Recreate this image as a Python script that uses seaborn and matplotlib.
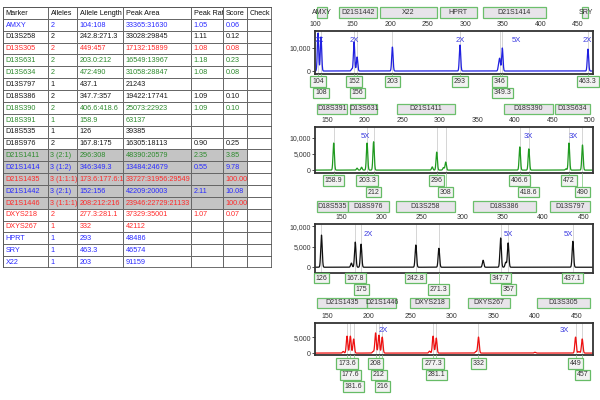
import numpy as np
import pandas as pd
import seaborn as sns
import matplotlib.pyplot as plt
from matplotlib.patches import Rectangle
from matplotlib.transforms import blended_transform_factory
from matplotlib.ticker import FuncFormatter

sns.set_style("white")
plt.rcParams['font.family'] = ['Liberation Sans', 'DejaVu Sans']

# ---------------- table data ----------------
columns = ['Marker', 'Alleles', 'Allele Length', 'Peak Area', 'Peak Ratio', 'Score', 'Check']
markers = ['AMXY', 'D13S258', 'D13S305', 'D13S631', 'D13S634', 'D13S797', 'D18S386', 'D18S390',
           'D18S391', 'D18S535', 'D18S976', 'D21S1411', 'D21S1414', 'D21S1435', 'D21S1442',
           'D21S1446', 'DXYS218', 'DXYS267', 'HPRT', 'SRY', 'X22']
allele_counts = ['2', '2', '2', '2', '2', '1', '2', '2', '1', '1', '2', '3 (2:1)', '3 (1:2)',
                 '3 (1:1:1)', '3 (2:1)', '3 (1:1:1)', '2', '1', '1', '1', '1']
allele_lengths = ['104:108', '242.8:271.3', '449:457', '203.0:212', '472:490', '437.1',
                  '347.7:357', '406.6:418.6', '158.9', '126', '167.8:175', '296:308',
                  '346:349.3', '173.6:177.6:181.6', '152:156', '208:212:216', '277.3:281.1',
                  '332', '293', '463.3', '203']
peak_areas = ['33365:31630', '33028:29845', '17132:15899', '16549:13967', '31058:28847',
              '21243', '19422:17741', '25073:22923', '63137', '39385', '16305:18113',
              '48390:20579', '13484:24679', '33727:31956:29549', '42209:20003',
              '23946:22729:21133', '37329:35001', '42112', '48486', '46574', '91159']
peak_ratios = ['1.05', '1.11', '1.08', '1.18', '1.08', '', '1.09', '1.09', '', '', '0.90',
               '2.35', '0.55', '', '2.11', '', '1.07', '', '', '', '']
scores = ['0.06', '0.12', '0.08', '0.23', '0.08', '', '0.10', '0.10', '', '', '0.25',
          '3.85', '9.78', '100.00', '10.08', '100.00', '0.07', '', '', '', '']
dyes = ['blue', 'black', 'red', 'green', 'green', 'black', 'black', 'green', 'green', 'black',
        'black', 'green', 'blue', 'red', 'blue', 'red', 'red', 'red', 'blue', 'blue', 'blue']
flagged = ['D21S1411', 'D21S1414', 'D21S1435', 'D21S1442', 'D21S1446']

# ---------------- electropherogram data ----------------
# blue dye
blue_sizes = [104, 108, 152, 156, 203, 293, 346, 349.3, 463.3]
blue_heights = [16500, 14800, 12600, 6100, 10400, 11300, 4800, 10000, 9500]
blue_rows = [0, 1, 0, 1, 0, 0, 0, 1, 0]
blue_minor_sizes = [149, 344.5]
blue_minor_heights = [900, 2500]
blue_markers = ['AMXY', 'D21S1442', 'X22', 'HPRT', 'D21S1414', 'SRY']
blue_bin_lo = [103, 132, 186, 266, 323, 456]
blue_bin_hi = [116, 182, 262, 315, 407, 464]
blue_fold_x = [106, 152, 293, 368, 463]
blue_fold = ['2X', '2X', '2X', '5X', '2X']

# green dye
green_sizes = [158.9, 203.3, 212, 296, 308, 406.6, 418.6, 472, 490]
green_heights = [8400, 8400, 8800, 5600, 2500, 7200, 6600, 8400, 7800]
green_rows = [0, 0, 1, 0, 1, 0, 1, 0, 1]
green_minor_sizes = [190, 196, 290, 305, 468]
green_minor_heights = [600, 900, 1000, 800, 400]
green_markers = ['D18S391', 'D13S631', 'D21S1411', 'D18S390', 'D13S634']
green_bin_lo = [137, 181, 243, 385, 453]
green_bin_hi = [177, 217, 320, 451, 500]
green_fold_x = [201, 418, 478]
green_fold = ['5X', '3X', '3X']

# yellow dye (shown black)
black_sizes = [126, 167.8, 175, 242.8, 271.3, 347.7, 357, 437.1]
black_heights = [7800, 6100, 5600, 5400, 4600, 7100, 5900, 6300]
black_rows = [0, 0, 1, 0, 1, 0, 1, 0]
black_minor_sizes = [163, 326, 354]
black_minor_heights = [1000, 1700, 1200]
black_markers = ['D18S535', 'D18S976', 'D13S258', 'D18S386', 'D13S797']
black_bin_lo = [120, 159, 218, 313, 409]
black_bin_hi = [159, 209, 291, 392, 458]
black_fold_x = [184, 357, 432]
black_fold = ['2X', '5X', '5X']

# red dye
red_sizes = [173.6, 177.6, 181.6, 208, 212, 216, 277.3, 281.1, 332, 449, 457]
red_heights = [5300, 5300, 4400, 6300, 5600, 5000, 5300, 4700, 5000, 5000, 4400]
red_rows = [0, 1, 2, 0, 1, 2, 0, 1, 0, 0, 1]
red_minor_sizes = [169, 205, 273, 329, 400, 453]
red_minor_heights = [500, 500, 600, 500, 250, 500]
red_markers = ['D21S1435', 'D21S1446', 'DXYS218', 'DXYS267', 'D13S305']
red_bin_lo = [137, 198, 249, 319, 402]
red_bin_hi = [198, 233, 297, 370, 466]
red_fold_x = [217, 435]
red_fold = ['2X', '3X']

colors = {'blue': '#2a2aff', 'black': '#1a1a1a', 'red': '#ff2a2a', 'green': '#2e8b2e'}
trace_colors = {'blue': '#2020e0', 'green': '#1f9a1f', 'black': '#111111', 'red': '#ee1010'}

fig = plt.figure(figsize=(6, 4), dpi=100)

# ---------------- table ----------------
ax_t = fig.add_axes([3 / 600, 1 - 268 / 400, 269 / 600, 261 / 400])
ax_t.set_xlim(0, 269)
ax_t.set_ylim(261, 0)
ax_t.axis('off')
col_w = [45, 29, 46, 68, 32, 24, 25]
col_x = np.concatenate([[0], np.cumsum(col_w)])
rh = 261 / (len(markers) + 1)

table_rows = [columns] + [list(r) + [''] for r in zip(markers, allele_counts, allele_lengths,
                                                       peak_areas, peak_ratios, scores)]
for r, row in enumerate(table_rows):
    y0 = r * rh
    marker = row[0]
    gray = r > 0 and marker in flagged
    tcolor = '#111111' if r == 0 else colors[dyes[r - 1]]
    for c, txt in enumerate(row):
        fc = '#c4c4c4' if (gray and c < 6) else 'white'
        rect = Rectangle((col_x[c], y0), col_w[c], rh, fc=fc, ec='#666666', lw=0.7)
        ax_t.add_patch(rect)
        t = ax_t.text(col_x[c] + 2.5, y0 + rh / 2 + 0.3, txt, fontsize=5.2, color=tcolor,
                      ha='left', va='center')
        if c in (2, 4):
            # long entries are cut at the cell border, as in the source table
            t.set_clip_on(True)
            t.set_clip_path(rect)
ax_t.add_patch(Rectangle((0, 0), 269, 261, fc='none', ec='#555555', lw=1.2))

# ---------------- electropherograms ----------------
panels = [
    dict(dye='blue', sizes=blue_sizes, heights=blue_heights, rows=blue_rows,
         minor=blue_minor_sizes, minor_h=blue_minor_heights, markers=blue_markers,
         lo=blue_bin_lo, hi=blue_bin_hi, fold_x=blue_fold_x, fold=blue_fold,
         px=(31, 74), xlim=(100, 470), ylim=(-1300, 17400), xticks=range(100, 451, 50),
         yticks=[0, 10000], box_px=(7, 18), row_px=[81.5, 93], fold_px=40),
    dict(dye='green', sizes=green_sizes, heights=green_heights, rows=green_rows,
         minor=green_minor_sizes, minor_h=green_minor_heights, markers=green_markers,
         lo=green_bin_lo, hi=green_bin_hi, fold_x=green_fold_x, fold=green_fold,
         px=(127, 173), xlim=(134, 504), ylim=(-900, 13400), xticks=range(150, 501, 50),
         yticks=[0, 5000, 10000], box_px=(104, 114), row_px=[180.5, 192], fold_px=136),
    dict(dye='black', sizes=black_sizes, heights=black_heights, rows=black_rows,
         minor=black_minor_sizes, minor_h=black_minor_heights, markers=black_markers,
         lo=black_bin_lo, hi=black_bin_hi, fold_x=black_fold_x, fold=black_fold,
         px=(224, 273), xlim=(118, 462), ylim=(-1400, 10500), xticks=range(150, 451, 50),
         yticks=[0, 5000, 10000], box_px=(201, 212), row_px=[278, 289.5], fold_px=234),
    dict(dye='red', sizes=red_sizes, heights=red_heights, rows=red_rows,
         minor=red_minor_sizes, minor_h=red_minor_heights, markers=red_markers,
         lo=red_bin_lo, hi=red_bin_hi, fold_x=red_fold_x, fold=red_fold,
         px=(323, 355), xlim=(135, 470), ylim=(-600, 9400), xticks=range(150, 451, 50),
         yticks=[0, 5000], box_px=(298, 308), row_px=[363.5, 375, 386.5], fold_px=331),
]


def fy(px):
    return 1 - px / 400


for p in panels:
    top, bot = p['px']
    ax = fig.add_axes([315 / 600, fy(bot), 278 / 600, (bot - top) / 400])
    blend = blended_transform_factory(ax.transData, fig.transFigure)

    # trace built from the called peaks
    x = np.arange(p['xlim'][0], p['xlim'][1], 0.1)
    y = np.zeros_like(x)
    for s, h in zip(p['sizes'] + p['minor'], p['heights'] + p['minor_h']):
        y += h * np.exp(-0.5 * ((x - s) / 0.9) ** 2)
    df = pd.DataFrame({'size': x, 'rfu': y})

    for s in p['sizes']:
        ax.axvline(s, color='#cfcfcf', lw=0.6, zorder=0)
    sns.lineplot(data=df, x='size', y='rfu', color=trace_colors[p['dye']], lw=0.9,
                 estimator=None, ax=ax)
    ax.set_xlabel('')
    ax.set_ylabel('')

    # bins above
    b0, b1 = p['box_px']
    for name, lo, hi in zip(p['markers'], p['lo'], p['hi']):
        ax.add_patch(Rectangle((lo, fy(b1)), hi - lo, fy(b0) - fy(b1), transform=blend,
                               fc='#e8e4ea', ec='#6cbf6c', lw=0.9, clip_on=False))
        ax.text((lo + hi) / 2, fy((b0 + b1) / 2), name, transform=blend, ha='center',
                va='center', fontsize=5, color='#333333', clip_on=False)

    # fold labels
    for fx, ft in zip(p['fold_x'], p['fold']):
        ax.text(fx, fy(p['fold_px']), ft, transform=blend, ha='center', va='center',
                fontsize=5.5, color='#3a3ae0')

    # allele call boxes below
    for s, r in zip(p['sizes'], p['rows']):
        yc = fy(p['row_px'][r])
        ax.plot([s, s], [fy(bot), yc], transform=blend, color='#8fd08f', lw=0.6,
                clip_on=False, zorder=3)
        ax.text(s, yc, f'{s:g}', transform=blend, ha='center', va='center', fontsize=5,
                color='#333333', clip_on=False, zorder=4,
                bbox=dict(boxstyle='square,pad=0.25', fc='#f2f2f2', ec='#66bb66', lw=0.9))

    ax.set_xlim(*p['xlim'])
    ax.set_ylim(*p['ylim'])
    ax.set_xticks(list(p['xticks']))
    ax.set_yticks(p['yticks'])
    ax.yaxis.set_major_formatter(FuncFormatter(lambda v, pos: f'{v:,.0f}'))
    ax.xaxis.tick_top()
    ax.tick_params(axis='x', length=0, pad=2, labelsize=5, colors='#333333')
    ax.tick_params(axis='y', length=2, width=0.6, pad=1, labelsize=5, colors='#333333',
                   left=True)
    for sp in ax.spines.values():
        sp.set_color('#333333')
        sp.set_linewidth(1.3)

fig.savefig('out.png', dpi=100, facecolor='white')
